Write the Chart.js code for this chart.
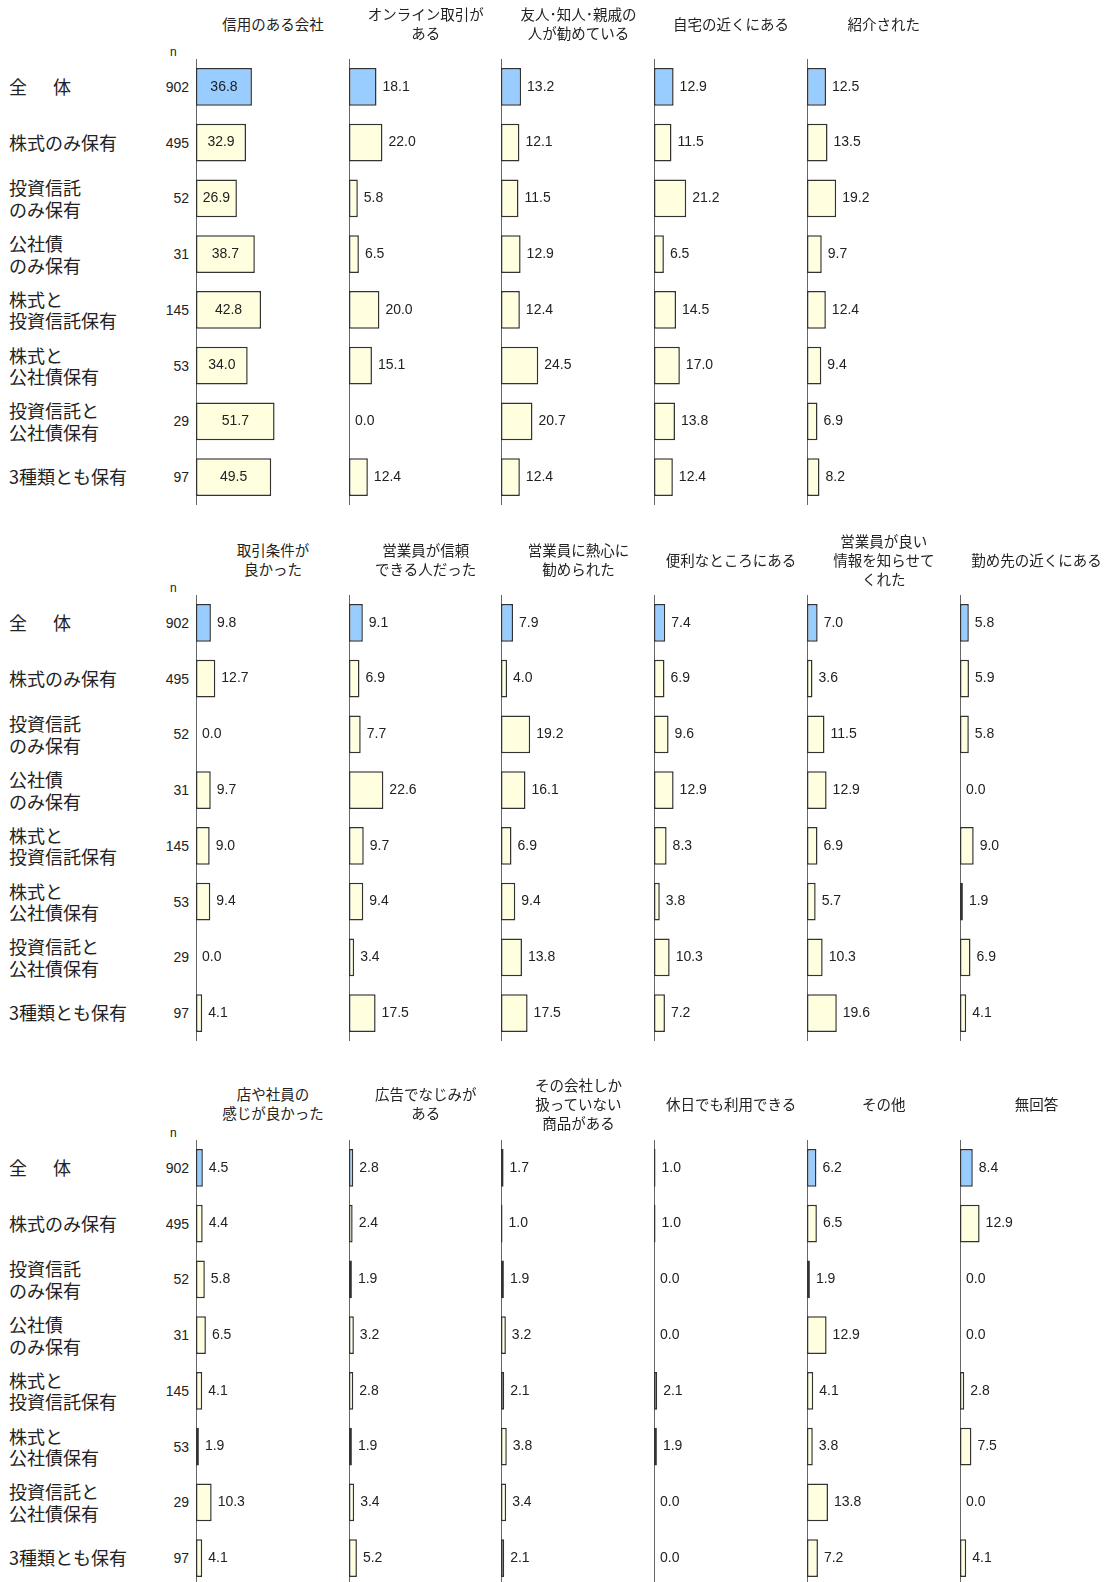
<!DOCTYPE html>
<html lang="ja">
<head>
<meta charset="utf-8">
<script src="https://cdn.jsdelivr.net/npm/chart.js@4.4.1/dist/chart.umd.min.js"></script>
<style>
body { margin:0; background:#fff; }
#page { position:relative; width:1104px; height:1582px; overflow:hidden; font-family:"Noto Sans CJK JP", sans-serif; color:#222; }
.title { position:absolute; width:160px; text-align:center; font-size:14.5px; line-height:19px; transform:translate(-50%,-50%); white-space:pre; }
.row { position:absolute; font-size:18px; line-height:21.5px; transform:translateY(-50%); white-space:pre; }
.n { position:absolute; font-family:"Liberation Sans", Arial, sans-serif; font-size:14px; transform:translate(-100%,-50%); }
.nhead { position:absolute; font-family:"Liberation Sans", Arial, sans-serif; font-size:12px; transform:translateY(-50%); }
canvas { position:absolute; }
</style>
</head>
<body>
<div id="page"></div>
<script>
// 行ラベルとn
const rowLabels = ["全　  体", "株式のみ保有", "投資信託\nのみ保有", "公社債\nのみ保有", "株式と\n投資信託保有", "株式と\n公社債保有", "投資信託と\n公社債保有", "3種類とも保有"];
const nValues = [902, 495, 52, 31, 145, 53, 29, 97];

// 1段目
const titles1 = ["信用のある会社", "オンライン取引が\nある", "友人･知人･親戚の\n人が勧めている", "自宅の近くにある", "紹介された"];
const shinyou = [36.8, 32.9, 26.9, 38.7, 42.8, 34.0, 51.7, 49.5];
const online = [18.1, 22.0, 5.8, 6.5, 20.0, 15.1, 0.0, 12.4];
const yuujin = [13.2, 12.1, 11.5, 12.9, 12.4, 24.5, 20.7, 12.4];
const jitaku = [12.9, 11.5, 21.2, 6.5, 14.5, 17.0, 13.8, 12.4];
const shoukai = [12.5, 13.5, 19.2, 9.7, 12.4, 9.4, 6.9, 8.2];

// 2段目
const titles2 = ["取引条件が\n良かった", "営業員が信頼\nできる人だった", "営業員に熱心に\n勧められた", "便利なところにある", "営業員が良い\n情報を知らせて\nくれた", "勤め先の近くにある"];
const jouken = [9.8, 12.7, 0.0, 9.7, 9.0, 9.4, 0.0, 4.1];
const shinrai = [9.1, 6.9, 7.7, 22.6, 9.7, 9.4, 3.4, 17.5];
const nesshin = [7.9, 4.0, 19.2, 16.1, 6.9, 9.4, 13.8, 17.5];
const benri = [7.4, 6.9, 9.6, 12.9, 8.3, 3.8, 10.3, 7.2];
const jouhou = [7.0, 3.6, 11.5, 12.9, 6.9, 5.7, 10.3, 19.6];
const tsutome = [5.8, 5.9, 5.8, 0.0, 9.0, 1.9, 6.9, 4.1];

// 3段目
const titles3 = ["店や社員の\n感じが良かった", "広告でなじみが\nある", "その会社しか\n扱っていない\n商品がある", "休日でも利用できる", "その他", "無回答"];
const kanji = [4.5, 4.4, 5.8, 6.5, 4.1, 1.9, 10.3, 4.1];
const koukoku = [2.8, 2.4, 1.9, 3.2, 2.8, 1.9, 3.4, 5.2];
const dokuji = [1.7, 1.0, 1.9, 3.2, 2.1, 3.8, 3.4, 2.1];
const kyuujitsu = [1.0, 1.0, 0.0, 0.0, 2.1, 1.9, 0.0, 0.0];
const sonota = [6.2, 6.5, 1.9, 12.9, 4.1, 3.8, 13.8, 7.2];
const mukaitou = [8.4, 12.9, 0.0, 0.0, 2.8, 7.5, 0.0, 4.1];

const BLUE = "#99CCFF";
const CREAM = "#FFFFE0";
const AXIS0 = 196, STEP = 152.7, PANEL_H = 446;

const sections = [
  { top: 59, titleY: 22.5, titles: titles1, data: [shinyou, online, yuujin, jitaku, shoukai], inside: true },
  { top: 595, titleY: 559, titles: titles2, data: [jouken, shinrai, nesshin, benri, jouhou, tsutome], inside: false },
  { top: 1140, titleY: 1103, titles: titles3, data: [kanji, koukoku, dokuji, kyuujitsu, sonota, mukaitou], inside: false }
];

const page = document.getElementById("page");

function addDiv(cls, text, x, y) {
  const d = document.createElement("div");
  d.className = cls;
  d.textContent = text;
  d.style.left = x + "px";
  d.style.top = y + "px";
  page.appendChild(d);
}

// 縦軸の線
const axisLine = {
  id: "axisLine",
  beforeDatasetsDraw(chart) {
    const ctx = chart.ctx, a = chart.chartArea;
    const x = Math.round(chart.scales.x.getPixelForValue(0)) + 0.5;
    ctx.save();
    ctx.strokeStyle = "#666";
    ctx.lineWidth = 1;
    ctx.beginPath();
    ctx.moveTo(x, a.top);
    ctx.lineTo(x, a.bottom);
    ctx.stroke();
    ctx.restore();
  }
};

function labelPlugin(inside) {
  return {
    id: "valueLabels",
    afterDatasetsDraw(chart) {
      const ctx = chart.ctx;
      const meta = chart.getDatasetMeta(0);
      const vals = chart.data.datasets[0].data;
      ctx.save();
      ctx.font = '14px "Liberation Sans", Arial, sans-serif';
      ctx.fillStyle = "#222";
      ctx.textBaseline = "middle";
      meta.data.forEach((bar, i) => {
        const txt = vals[i].toFixed(1);
        if (inside) {
          ctx.textAlign = "center";
          ctx.fillText(txt, (bar.base + bar.x) / 2, bar.y);
        } else {
          ctx.textAlign = "left";
          ctx.fillText(txt, bar.x + 6, bar.y);
        }
      });
      ctx.restore();
    }
  };
}

function makePanel(left, top, values, inside) {
  const cv = document.createElement("canvas");
  cv.width = 156;
  cv.height = PANEL_H;
  cv.style.left = (left - 2) + "px";
  cv.style.top = top + "px";
  page.appendChild(cv);
  return new Chart(cv, {
    type: "bar",
    data: {
      labels: rowLabels,
      datasets: [{
        data: values,
        backgroundColor: values.map((v, i) => i == 0 ? BLUE : CREAM),
        borderColor: "#333",
        borderWidth: 1.5,
        borderSkipped: false,
        barPercentage: 0.68,
        categoryPercentage: 1
      }]
    },
    options: {
      indexAxis: "y",
      responsive: false,
      animation: false,
      events: [],
      layout: { padding: { left: 2, right: 2, top: 0, bottom: 0 } },
      plugins: { legend: { display: false }, tooltip: { enabled: false } },
      scales: {
        x: { display: false, min: 0, max: 100 },
        y: { display: false }
      }
    },
    plugins: [axisLine, labelPlugin(inside)]
  });
}

sections.forEach(sec => {
  let first = null;
  sec.data.forEach((vals, p) => {
    const ax = AXIS0 + STEP * p;
    const ch = makePanel(ax, sec.top, vals, sec.inside && p == 0);
    if (!first) first = ch;
    addDiv("title", sec.titles[p], ax + 77, sec.titleY);
  });
  const y = first.scales.y;
  addDiv("nhead", "n", 170, sec.top - 7);
  rowLabels.forEach((lab, i) => {
    const py = sec.top + y.getPixelForValue(i);
    addDiv("row", lab, 9, py);
    addDiv("n", String(nValues[i]), 189, py);
  });
});
</script>
</body>
</html>
